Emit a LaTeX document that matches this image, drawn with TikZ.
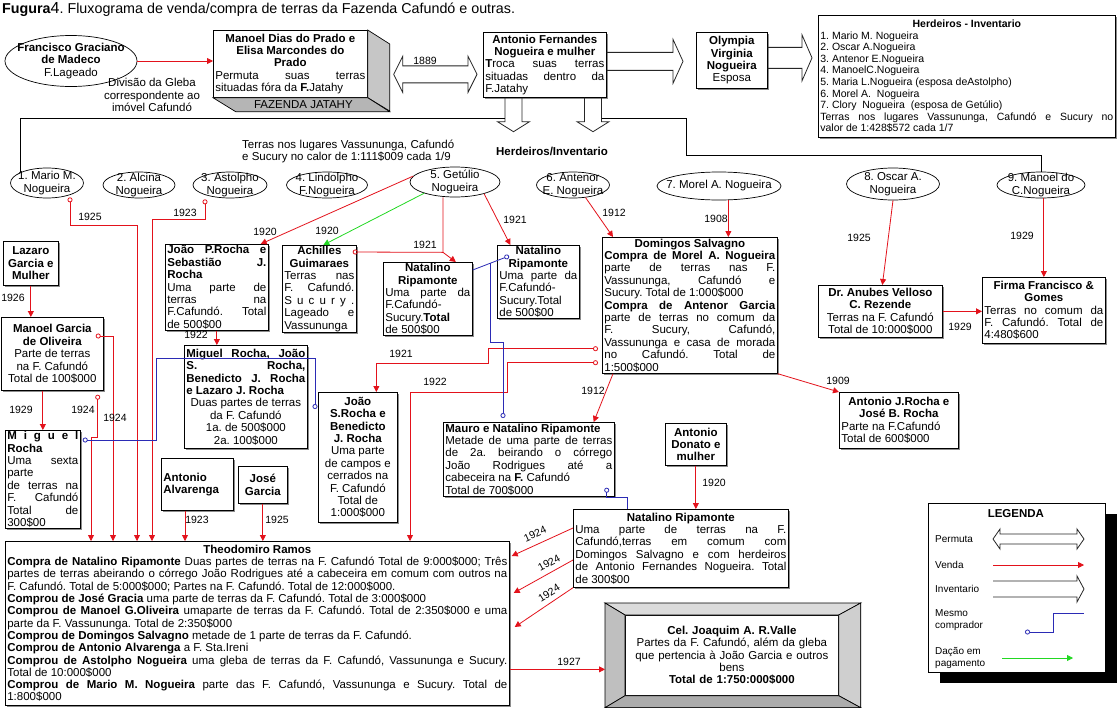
\documentclass[tikz,border=0pt]{standalone}
\usepackage{fontspec}
\setmainfont{Liberation Sans}
\usetikzlibrary{arrows.meta,shapes.geometric,calc,shadows}
\definecolor{vendacol}{HTML}{E3121B}
\definecolor{mesmocol}{HTML}{2B2BB5}
\definecolor{dacaocol}{HTML}{22D822}
\definecolor{bevelcol}{HTML}{9C9C9C}
\newcommand{\TxtSize}{\fontsize{11.5}{12.4}\selectfont}
\newcommand{\ListSize}{\fontsize{10.5}{11.6}\selectfont}
\newcommand{\YearSize}{\fontsize{10.5}{12}\selectfont}
\newcommand{\TitleSize}{\fontsize{14.3}{16}\selectfont}
\newcommand{\LegSize}{\fontsize{10}{11.5}\selectfont}
\hyphenpenalty=10000
\exhyphenpenalty=10000
\frenchspacing
\setlength{\parindent}{0pt}
% hollow block arrows (Permuta / Inventario):
% #1 tail, #2 tip, #3 half body, #4 half head, #5 head length
\newcommand{\InvRight}[5]{%
  \draw[hollow] ($(#1)+(0,-#3)$) -- ($(#2)+(-#5,-#3)$) -- ($(#2)+(-#5,-#4)$) -- (#2)
    -- ($(#2)+(-#5,#4)$) -- ($(#2)+(-#5,#3)$) -- ($(#1)+(0,#3)$);}
\newcommand{\InvDown}[5]{%
  \draw[hollow] ($(#1)+(-#3,0)$) -- ($(#2)+(-#3,-#5)$) -- ($(#2)+(-#4,-#5)$) -- (#2)
    -- ($(#2)+(#4,-#5)$) -- ($(#2)+(#3,-#5)$) -- ($(#1)+(#3,0)$);}
\newcommand{\PermArrow}[5]{%
  \draw[hollow] (#1) -- ($(#1)+(#5,-#4)$) -- ($(#1)+(#5,-#3)$) -- ($(#2)+(-#5,-#3)$)
    -- ($(#2)+(-#5,-#4)$) -- (#2) -- ($(#2)+(-#5,#4)$) -- ($(#2)+(-#5,#3)$)
    -- ($(#1)+(#5,#3)$) -- ($(#1)+(#5,#4)$) -- cycle;}

\begin{document}
\begin{tikzpicture}[x=1pt, y=-1pt, font=\TxtSize,
    box/.style={draw=black, line width=0.7pt, fill=white, anchor=north west, align=justify, inner xsep=2pt, inner ysep=1pt},
    shbox/.style={box, drop shadow={shadow xshift=1.4pt, shadow yshift=-1.4pt, fill=black!45, opacity=1}},
    oval/.style={ellipse, draw=black, line width=0.7pt, fill=white, inner sep=0pt},
    inside/.style={align=center, inner sep=0pt, font=\TxtSize},
    note/.style={align=center, inner sep=0pt},
    year/.style={inner sep=0pt, font=\YearSize},
    venda/.style={draw=vendacol, line width=0.8pt, -{Triangle[length=6pt,width=6pt]}},
    vendaoc/.style={venda, {Circle[open,length=5pt,width=5pt]}-{Triangle[length=6pt,width=6pt]}},
    vendao/.style={draw=vendacol, line width=0.8pt, {Circle[open,length=5pt,width=5pt]}-},
    mesmo/.style={draw=mesmocol, line width=0.8pt},
    mesmocc/.style={mesmo, {Circle[open,length=5pt,width=5pt]}-{Circle[open,length=5pt,width=5pt]}},
    mesmoc/.style={mesmo, {Circle[open,length=5pt,width=5pt]}-},
    mesmoe/.style={mesmo, -{Circle[open,length=5pt,width=5pt]}},
    dacao/.style={draw=dacaocol, line width=0.8pt, -{Triangle[length=6pt,width=6pt]}},
    hollow/.style={draw=black!85, line width=0.8pt, line join=miter},
    bus/.style={draw=black, line width=0.8pt},
  ]
\fill[white] (0,0) rectangle (1118,707);
\useasboundingbox (0,0) rectangle (1118,707);

% --- Title -------------------------------------------------------------------
\node[anchor=west, inner sep=0pt, font=\TitleSize] (title) at (2,10)
  {\textbf{Fugura}{\fontsize{16}{16}\selectfont 4}. Fluxograma de venda/compra de terras da Fazenda Cafundó e outras.};

% --- Top row: the exchange and the inventory ---------------------------------
\node[oval, minimum width=132pt, minimum height=51pt,
  label={[inside]center:{\textbf{Francisco Graciano}\\\textbf{de Madeco}\\F.Lageado}}] (francisco) at (71,61) {};
\node[note] (divisao) at (152,95) {Divisão da Gleba\\correspondente ao\\imóvel Cafundó};

\node[box, text width=150pt, minimum height=67pt] (mdprado) at (213,30)
  {{\centering\textbf{Manoel Dias do Prado e}\\\textbf{Elisa Marcondes do}\\\textbf{Prado}\par}Permuta suas terras\linebreak situadas fóra da \textbf{F.}Jatahy};
\filldraw[fill=gray!45, line width=0.7pt] (mdprado.north east) -- ++(22,14) -- ++(0,67) -- (mdprado.south east) -- cycle;
\filldraw[fill=gray!58, line width=0.7pt] (mdprado.south west) -- (mdprado.south east) -- ++(22,14) -- ++(-154,0) -- cycle;
\node[inner sep=0pt] (jatahy) at ($(mdprado.south)+(13,7)$) {FAZENDA JATAHY};

\node[shbox, text width=119pt, minimum height=65pt] (antonio) at (483,32)
  {{\centering\textbf{Antonio Fernandes}\\\textbf{Nogueira e mulher}\par}\textbf{T}roca suas terras\linebreak situadas dentro da\linebreak F.Jatahy};
\node[shbox, text width=67pt, minimum height=56pt] (olympia) at (696,32)
  {{\centering\textbf{Olympia}\\\textbf{Virginia}\\\textbf{Nogueira}\\Esposa\par}};
\node[shbox, text width=293pt, minimum height=122pt, font=\ListSize] (herdeiros) at (818,15)
  {{\centering\textbf{Herdeiros - Inventario}\par}1. Mario M. Nogueira\\2. Oscar A.Nogueira\\3. Antenor E.Nogueira\\4. ManoelC.Nogueira\\5. Maria L.Nogueira (esposa deAstolpho)\\6. Morel A.\ \ Nogueira\\7. Clory\ \ Nogueira\ \ (esposa de Getúlio)\\Terras nos lugares Vassununga, Cafundó e Sucury no\linebreak valor de 1:428\$572 cada 1/7};

\node[note, align=justify, text width=212pt, anchor=west] (terrasnove) at (242,151.5)
  {Terras nos lugares Vassununga, Cafundó\linebreak e Sucury no calor de 1:111\$009 cada 1/9};
\node[note, font=\TxtSize\bfseries] (herinv) at (552,151) {Herdeiros/Inventario};

% --- The nine heirs ------------------------------------------------------------
\foreach \nm/\cx/\cy/\w/\h/\txt in {
    e1/47/183/73/30/{1. Mario M.\\Nogueira},
    e2/139/185/72/26/{2. Alcina\\Nogueira},
    e3/230/185/74/26/{3. Astolpho\\Nogueira},
    e4/327/185/81/26/{4. Lindolpho\\F.Nogueira},
    e5/455/182/90/30/{5. Getúlio\\Nogueira},
    e6/573/185/73/26/{6. Antenor\\E. Nogueira},
    e7/719/186/124/28/{7. Morel A. Nogueira},
    e8/893/184/93/32/{8. Oscar A.\\Nogueira},
    e9/1041/185/88/26/{9. Manoel do\\C.Nogueira}}
  \node[oval, minimum width=\w pt, minimum height=\h pt, label={[inside]center:\txt}] (\nm) at (\cx,\cy) {};

% --- Buyers ----------------------------------------------------------------------
\node[shbox, text width=51pt, minimum height=44pt] (lazaro) at (3,241)
  {{\centering\bfseries Lazaro\\Garcia e\\Mulher\par}};
\node[shbox, text width=98pt, minimum height=73pt] (mgarcia) at (1,317)
  {{\centering\textbf{Manoel Garcia}\\\textbf{de Oliveira}\\Parte de terras\\na F. Cafundó\\Total de 100\$000\par}};
\node[shbox, text width=71pt, minimum height=98pt] (miguel) at (5,430)
  {\textbf{M\hfill i\hfill g\hfill u\hfill e\hfill l}\\\textbf{Rocha}\\Uma sexta\linebreak parte\\de terras na\linebreak F. Cafundó\linebreak Total de\linebreak 300\$00};
\node[shbox, text width=99pt, minimum height=86pt] (jprocha) at (165,244)
  {\textbf{João P.Rocha e\linebreak Sebastião J.\linebreak Rocha}\par Uma parte de\linebreak terras na\linebreak F.Cafundó. Total\linebreak de 500\$00};
\node[shbox, text width=70pt, minimum height=87pt] (achilles) at (282,245)
  {{\centering\textbf{Achilles}\\\textbf{Guimaraes}\par}Terras nas\linebreak F. Cafundó.\linebreak S\hfill u\hfill c\hfill u\hfill r\hfill y\hfill .\\Lageado e\linebreak Vassununga};
\node[shbox, text width=85pt, minimum height=73pt] (natal1) at (383,262)
  {{\centering\textbf{Natalino}\\\textbf{Ripamonte}\par}Uma parte da\linebreak F.Cafundó-\\Sucury.\textbf{Total}\linebreak de 500\$00};
\node[shbox, text width=78pt, minimum height=73pt] (natal2) at (497,245)
  {{\centering\textbf{Natalino}\\\textbf{Ripamonte}\par}Uma parte da\linebreak F.Cafundó-\\Sucury.Total\linebreak de 500\$00};
\node[shbox, text width=171pt, minimum height=136pt] (domingos) at (602,237)
  {{\centering\textbf{Domingos Salvagno}\par}\textbf{Compra de Morel A. Nogueira}\linebreak parte de terras nas F.\linebreak Vassununga, Cafundó e\linebreak Sucury. Total de 1:000\$000\par\textbf{Compra de Antenor Garcia}\linebreak parte de terras no comum da\linebreak F. Sucury, Cafundó,\linebreak Vassununga e casa de morada\linebreak no Cafundó. Total de\linebreak 1:500\$000};
\node[shbox, text width=120pt, minimum height=52pt] (anubes) at (818,285)
  {{\centering\textbf{Dr. Anubes Velloso}\\\textbf{C. Rezende}\\Terras na F. Cafundó\\Total de 10:000\$000\par}};
\node[shbox, text width=119pt, minimum height=66pt] (firma) at (982,277)
  {{\centering\textbf{Firma Francisco \&}\\\textbf{Gomes}\par}Terras no comum da\linebreak F. Cafundó. Total de\linebreak 4:480\$600};
\node[shbox, text width=119pt, minimum height=103pt] (mrocha) at (184,345)
  {\textbf{Miguel Rocha, João\linebreak S. Rocha,\linebreak Benedicto J. Rocha\linebreak e Lazaro J. Rocha}\par{\centering Duas partes de terras\\da F. Cafundó\\1a. de 500\$000\\2a. 100\$000\par}};
\node[shbox, text width=75pt, minimum height=130pt] (jsrocha) at (318,392)
  {{\centering\textbf{João}\\\textbf{S.Rocha e}\\\textbf{Benedicto}\\\textbf{J. Rocha}\\Uma parte\\de campos e\\cerrados na\\F. Cafundó\\Total de\\1:000\$000\par}};
\node[shbox, text width=68pt, minimum height=52pt] (alvarenga) at (161,458)
  {\bfseries Antonio\\Alvarenga};
\node[shbox, text width=45pt, minimum height=37pt] (jgarcia) at (238,466)
  {{\centering\bfseries José\\Garcia\par}};
\node[shbox, text width=167pt, minimum height=74pt] (mauro) at (443,422)
  {\textbf{Mauro e Natalino Ripamonte}\\Metade de uma parte de terras\linebreak de 2a. beirando o córrego\linebreak João Rodrigues até a\linebreak cabeceira na \textbf{F.} Cafundó\\Total de 700\$000};
\node[shbox, text width=115pt, minimum height=56pt] (ajrocha) at (839,392)
  {{\centering\textbf{Antonio J.Rocha e}\\\textbf{José B. Rocha}\par}Parte na F.Cafundó\\Total de 600\$000};
\node[shbox, text width=57pt, minimum height=42pt] (donato) at (665,423)
  {{\centering\bfseries Antonio\\Donato e\\mulher\par}};
\node[shbox, text width=211pt, minimum height=78pt] (natal3) at (573,509)
  {{\centering\textbf{Natalino Ripamonte}\par}Uma parte de terras na F.\linebreak Cafundó,terras em comum com\linebreak Domingos Salvagno e com herdeiros\linebreak de Antonio Fernandes Nogueira. Total\linebreak de 300\$00};

% --- The final buyers ------------------------------------------------------------
\node[shbox, text width=500pt, minimum height=164pt, font=\fontsize{11.5}{12.3}\selectfont] (theodomiro) at (5,541)
  {{\centering\textbf{Theodomiro Ramos}\par}
  \textbf{Compra de Natalino Ripamonte} Duas partes de terras na F. Cafundó Total de 9:000\$000; Três\linebreak
  partes de terras abeirando o córrego João Rodrigues até a cabeceira em comum com outros na\linebreak
  F. Cafundó. Total de 5:000\$000; Partes na F. Cafundó. Total de 12:000\$000.\par
  \textbf{Comprou de José Gracia} uma parte de terras da F. Cafundó. Total de 3:000\$000\par
  \textbf{Comprou de Manoel G.Oliveira} umaparte de terras da F. Cafundó. Total de 2:350\$000 e uma\linebreak
  parte da F. Vassununga. Total de 2:350\$000\par
  \textbf{Comprou de Domingos Salvagno} metade de 1 parte de terras da F. Cafundó.\par
  \textbf{Comprou de Antonio Alvarenga} a F. Sta.Ireni\par
  \textbf{Comprou de Astolpho Nogueira} uma gleba de terras da F. Cafundó, Vassununga e Sucury.\linebreak
  Total de 10:000\$000\par
  \textbf{Comprou de Mario M. Nogueira} parte das F. Cafundó, Vassununga e Sucury. Total de\linebreak
  1:800\$000};

\node[box, fill=bevelcol, minimum width=255pt, minimum height=104pt] (valle) at (605,603) {};
\node[box, text width=209pt, align=center, minimum height=80pt] (valleface) at (625,615)
  {\textbf{Cel. Joaquim A. R.Valle}\\Partes da F. Cafundó, além da gleba\\que pertencia à João Garcia e outros\\bens\\\textbf{Total de 1:750:000\$000}};
\filldraw[fill=gray!28, line width=0.7pt] (valle.north west) -- (valle.north east) -- (valleface.north east) -- (valleface.north west) -- cycle;
\filldraw[fill=gray!50, line width=0.7pt] (valle.north west) -- (valleface.north west) -- (valleface.south west) -- (valle.south west) -- cycle;
\filldraw[fill=gray!38, line width=0.7pt] (valle.north east) -- (valleface.north east) -- (valleface.south east) -- (valle.south east) -- cycle;
\filldraw[fill=gray!65, line width=0.7pt] (valle.south west) -- (valleface.south west) -- (valleface.south east) -- (valle.south east) -- cycle;

% --- Permuta and Inventario block arrows ---------------------------------------
\coordinate (p1) at ($(mdprado.east)+(26,10.5)$);
\coordinate (p2) at ($(p1 -| antonio.west)+(-6,0)$);
\PermArrow{p1}{p2}{8.5}{18}{9}
\coordinate (h1) at ($(antonio.east)+(0,-3.5)$);
\coordinate (h1t) at ($(h1 -| olympia.west)+(-13,0)$);
\InvRight{h1}{h1t}{9}{22}{10}
\coordinate (h2) at ($(olympia.east)+(0,-2.5)$);
\coordinate (h2t) at ($(h2 -| herdeiros.west)+(-6,0)$);
\InvRight{h2}{h2t}{10.5}{23}{10}
\coordinate (ia1) at ($(antonio.south west)+(30.5,0)$);
\coordinate (ia1t) at ($(ia1)+(0,34)$);
\InvDown{ia1}{ia1t}{8.5}{16}{10}
\coordinate (ia2) at ($(antonio.south west)+(110,0)$);
\coordinate (ia2t) at ($(ia2)+(0,34)$);
\InvDown{ia2}{ia2t}{8.5}{16}{10}
\draw[bus] ($(ia1)+(-8.5,21)$) -| (e1.158);
\draw[bus] ($(ia2)+(8.5,21)$) -- ++(85,0) -- ++(0,37) -| (e9.north);

% --- Vendas ----------------------------------------------------------------------
\foreach \nm/\dx in {1/86, 2/108, 3/132, 4/147, 5/180, 7/405}
  \coordinate (td\nm) at ($(theodomiro.north west)+(\dx,0)$);
\coordinate (j1) at ($(e5.south)+(-12,55)$);
\coordinate (dm7) at ($(domingos.north)+(38.5,0)$);
\coordinate (tv) at ($(theodomiro.east)+(0,46)$);

\draw[venda] (francisco.east) -- (francisco.east -| mdprado.west);
\draw[vendaoc] ($(e1.south)+(23,-1)$) -- ++(0,28) -| (td3);
\draw[vendaoc] ($(e3.south)+(-25,1)$) -- ++(0,20) -| (td4);
\draw[venda] (e5.172) -- ($(jprocha.north east)+(-8,0)$);
\draw[venda] ($(e5.south)+(-12,0)$) -- (j1) -- ($(natal1.north)+(28,0)$);
\draw[vendao] ($(achilles.north east)+(-4,7)$) -- (j1);
\draw[venda] (e5.-22) -- ($(natal2.north)+(-28,0)$);
\draw[venda] (e6.-45) -- ($(domingos.north west)+(11,0)$);
\draw[venda] (dm7 |- e7.south) -- (dm7);
\draw[venda] (e8.south) -- ($(anubes.north)+(2,0)$);
\draw[venda] (firma.north |- e9.south) -- (firma.north);
\draw[venda] (anubes.east) -- (anubes.east -| firma.west);
\draw[venda] (lazaro.south) -- (lazaro.south |- mgarcia.north);
\draw[venda] (miguel.north |- mgarcia.south) -- (miguel.north);
\draw[vendaoc] ($(mgarcia.north east)+(-8,19)$) -| (td2);
\draw[vendaoc] ($(mgarcia.south east)+(-6,4)$) -- ++(0,43) -| (td1);
\draw[venda] (jprocha.south) -- (jprocha.south |- mrocha.north);
\draw[vendaoc] ($(domingos.south west)+(-4,-25)$) -- ++(-110,0) -- ++(0,15) -| ($(jsrocha.north)+(18.5,0)$);
\draw[vendaoc] ($(domingos.south west)+(-4,-11)$) -- ++(-91,0) -- ++(0,30) -| (td7);
\draw[venda] ($(domingos.south west)+(11,0)$) -- ($(mauro.north east)+(-21,0)$);
\draw[venda] (domingos.south east) -- (ajrocha.north west);
\draw[venda] (td5 |- alvarenga.south) -- (td5);
\draw[venda] (jgarcia.south) -- (jgarcia.south |- theodomiro.north);
\draw[venda] (donato.south) -- (donato.south |- natal3.north);
\draw[venda] ($(natal3.north west)+(0,19)$) -- ($(theodomiro.north east)+(2,15)$);
\draw[venda] ($(natal3.north west)+(0,51)$) -- ($(theodomiro.north east)+(4,52)$);
\draw[venda] (natal3.south west) -- ($(theodomiro.north east)+(5,86)$);
\draw[venda] (tv) -- (tv -| valle.west);

% --- Mesmo comprador and dacao em pagamento ------------------------------------
\draw[mesmocc] ($(miguel.north east)+(2,10)$) -- ++(74,0) |- ($(jsrocha.north west)+(-3,-34)$) -- ($(jsrocha.north west)+(-3,17)$);
\coordinate (n2c) at ($(natal2.north west)+(12,11)$);
\coordinate (n1e) at ($(natal1.north east)+(0,8)$);
\coordinate (j2) at ($(n2c)!0.51!(n1e)$);
\draw[mesmoc] (n2c) -- (n1e);
\draw[mesmoe] (j2) -- ++(0,79) -| ($(mauro.north west)+(60,-4)$);
\draw[mesmoc] ($(mauro.south east)+(-8,-9)$) -- ++(0,10) -| ($(natal3.north west)+(54,0)$);
\draw[dacao] (e5.-160) -- ($(achilles.north)+(4,0)$);

% --- Years -----------------------------------------------------------------------
\foreach \nm/\px/\py/\yr in {a/90/217/1925, b/185/213/1923, c/265/232/1920, d/327/231/1920,
    e/425/245/1921, f/515/220/1921, g/614/213/1912, h/716/219/1908, i/859/238/1925,
    j/1022/236/1929, k/960/327/1929, l/13/298/1926, m/21/410/1929, n/83/410/1924,
    o/115/418/1924, p/196/335/1922, q/401/354/1921, r/435/382/1922, s/593/391/1912,
    t/838/381/1909, u/714/483/1920, v/197/520/1923, w/277/520/1925, x/569/662/1927,
    y/425/61/1889}
  \node[year] (yr\nm) at (\px,\py) {\yr};
\node[year, rotate=24] (yr1924a) at (535,534) {1924};
\node[year, rotate=28] (yr1924b) at (549,563) {1924};
\node[year, rotate=32] (yr1924c) at (549,593) {1924};

% --- Legend ----------------------------------------------------------------------
\node[box, text width=173pt, minimum height=169pt,
  drop shadow={shadow xshift=12pt, shadow yshift=-11pt, fill=black, opacity=1}] (legend) at (928,503) {};
\node[font=\TxtSize\bfseries, inner sep=0pt] (legtitle) at ($(legend.north)+(-1,11)$) {LEGENDA};
\foreach \nm/\py/\txt in {lgperm/539/Permuta, lgvenda/565/Venda, lginv/589/Inventario,
    lgmesmo/620/{Mesmo\\comprador}, lgdacao/658/{Dação em\\pagamento}}
  \node[anchor=west, align=left, inner sep=0pt, font=\LegSize] (\nm) at (935,\py) {\txt};
\coordinate (lp1) at (993,539);
\coordinate (lp2) at (1084,539);
\PermArrow{lp1}{lp2}{5}{10}{7}
\coordinate (lv1) at (993,565);
\coordinate (lv2) at (1084,565);
\draw[venda] (lv1) -- (lv2);
\coordinate (li1) at (993,589);
\coordinate (li2) at (1084,589);
\InvRight{li1}{li2}{8}{13}{7}
\coordinate (lm1) at (1025,632);
\coordinate (lm2) at (1084,613);
\draw[mesmoc] (lm1) -- ++(28,0) |- (lm2);
\coordinate (ld1) at (1002,658);
\coordinate (ld2) at (1073,658);
\draw[dacao] (ld1) -- (ld2);

\end{tikzpicture}
\end{document}
